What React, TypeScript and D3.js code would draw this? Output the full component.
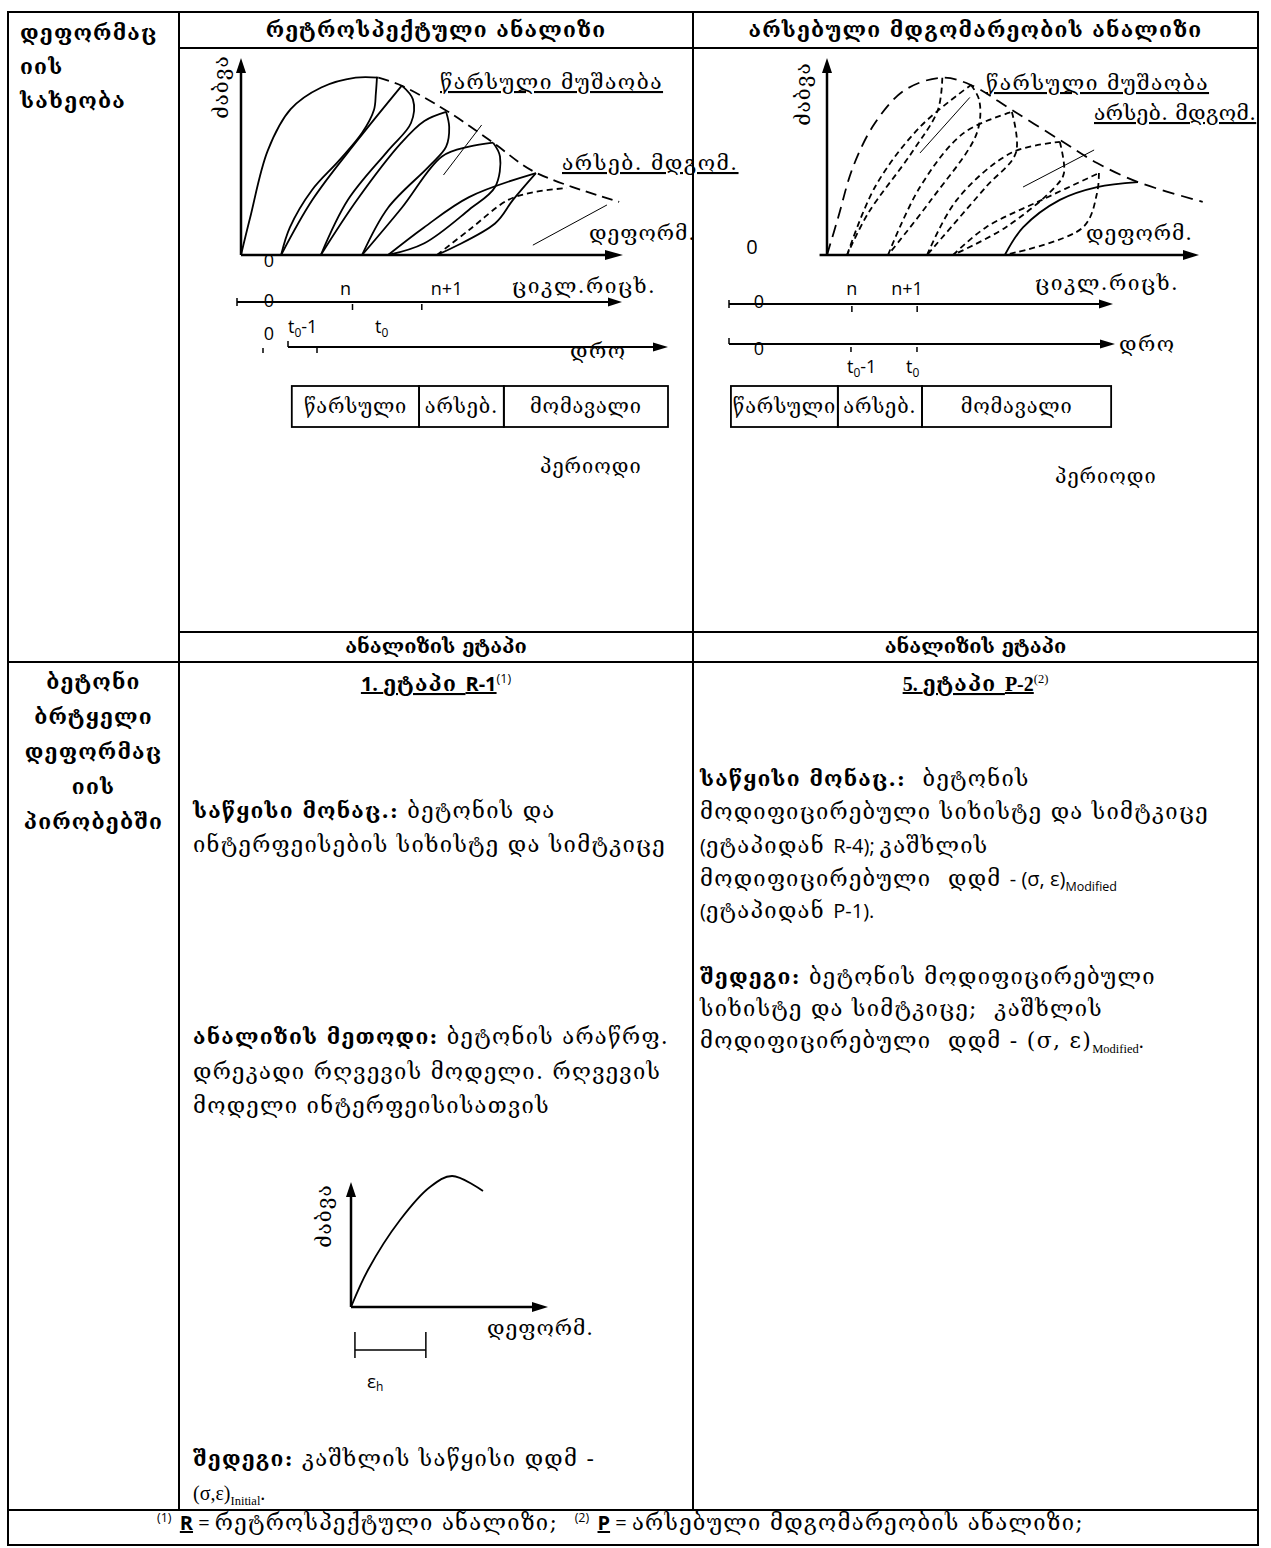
import React from "react";
import * as d3 from "d3";

type Pt = [number, number];
type Seg = { t: string; b?: boolean; f?: "sans" | "serif"; sub?: boolean; sup?: boolean; u?: boolean };

const GEO = "'DejaVu Serif', 'DejaVu Sans', serif";
const SANS = "'Open Sans', 'Liberation Sans', sans-serif";
const SERIF = "'Liberation Serif', 'DejaVu Serif', serif";

// ---- table text
const columnTitles = ["რეტროსპექტული ანალიზი", "არსებული მდგომარეობის ანალიზი"];
const typeLines = ["დეფორმაც", "იის", "სახეობა"];
const conditionLines = ["ბეტონი", "ბრტყელი", "დეფორმაც", "იის", "პირობებში"];
const stageTitle = "ანალიზის ეტაპი";
const periodLabels = ["წარსული", "არსებ.", "მომავალი"];
const periodWord = "პერიოდი";
const stressLabel = "ძაბვა";
const strainLabel = "დეფორმ.";
const cycleLabel = "ციკლ.რიცხ.";
const timeLabel = "დრო";
const pastLabel = "წარსული მუშაობა";
const nowLabel = "არსებ. მდგომ.";
const cycleTicks = ["n", "n+1"];

// ---- retrospective diagram (units: deformation 0..100, stress 0..100)
const retroEnvelope: Pt[] = [[0, 0], [2.4, 19], [7, 53], [13, 74], [21, 85], [30, 90], [36, 90]];
const retroEnvelopeDash: Pt[] = [[36, 90], [42, 86], [54, 73], [66, 57], [77, 42], [99, 27]];
const retroLoops: Pt[][] = [
  [[35.6, 90.4], [35.3, 82], [34.8, 73.6], [31.7, 62], [25.7, 48], [18.6, 33], [12.8, 14], [10.5, 0]],
  [[10.5, 0], [18.7, 28], [30.4, 58], [42.1, 86]],
  [[42.1, 86], [45, 79], [44.5, 67], [38.5, 53], [28, 28], [20.9, 0]],
  [[20.9, 0], [30.4, 28], [42, 57], [48, 68], [53.7, 72.6]],
  [[53.7, 72.6], [54.5, 65], [53.7, 55], [49.2, 45], [38.5, 24], [31.7, 0]],
  [[31.7, 0], [42.1, 24], [52.6, 50], [59.7, 55], [66, 57]],
  [[66, 57], [67.8, 50], [66.5, 34.5], [59.7, 23], [48, 6], [38.5, 0]],
  [[38.5, 0], [47.9, 14], [59.7, 29.4], [77.2, 41.6]],
  [[77.2, 41.6], [71.2, 28], [66.5, 16], [51.3, 0]],
];
const retroFuture: Pt[] = [[51.3, 0], [59.7, 12.7], [70, 28], [77, 32], [85.3, 34]];
const retroLeaders: Pt[][] = [[[63, 66], [53, 40.6]], [[95.8, 25.4], [76.4, 5]]];
const retroCycleAt = [3.0, 4.8];
const retroPeriodBounds = [0.1, 3.45, 5.68, 10];

// ---- current-state diagram
const currentEnvelope: Pt[] = [[0, 0], [3, 19], [7, 44.7], [12.9, 67], [21, 83.8], [31, 90], [38.7, 86.3], [49.7, 73.6], [62.6, 58.4], [72.6, 46.7], [83.6, 37], [101, 27]];
const currentLoops: Pt[][] = [
  [[31, 90], [29.8, 73.6], [22.8, 52], [11, 21], [5.4, 0]],
  [[5.4, 0], [12.9, 34.5], [25, 65], [38.7, 86.3]],
  [[38.7, 86.3], [40.9, 78.7], [40.3, 62], [28, 28], [16.4, 0]],
  [[16.4, 0], [25, 34.5], [36.8, 62], [49.7, 72.6]],
  [[49.7, 72.6], [50.8, 52], [42.7, 34.5], [26.9, 0]],
  [[26.9, 0], [34.9, 28], [49.7, 52], [62.6, 57.4]],
  [[62.6, 57.4], [63.7, 41.6], [61.3, 34.5], [48, 14], [33.9, 0]],
  [[33.9, 0], [42.7, 14], [57.8, 28], [73.1, 41.6]],
  [[73.1, 41.6], [72.6, 31.5], [68.8, 14], [47.8, 0]],
];
const currentReload: Pt[] = [[47.8, 0], [52.7, 14], [62.6, 28], [72.6, 34.5], [83.6, 37]];
const currentLeaders: Pt[][] = [[[38.4, 80], [25, 51.8]], [[71.8, 53.3], [52.7, 34.5]]];
const currentCycleAt = [3.2, 4.9];
const currentTimeAt = [3.16, 4.87];
const currentPeriodBounds = [0.05, 2.82, 5.0, 9.9];

// ---- small stress-strain sketch
const hardeningCurve: Pt[] = [[0, 0], [8.6, 29.6], [24.9, 69.6], [40.1, 96], [51.3, 104.8], [67, 92.8]];
const hardeningSpan = [2, 38];

// ---- stage texts
const retroStage: Seg[] = [{ t: "1. ", b: true, f: "sans", u: true }, { t: "ეტაპი ", b: true, u: true }, { t: "R-1", b: true, f: "sans", u: true }, { t: "(1)", sup: true, f: "sans" }];
const currentStage: Seg[] = [{ t: "5. ", b: true, f: "serif", u: true }, { t: "ეტაპი ", b: true, u: true }, { t: "P-2", b: true, f: "serif", u: true }, { t: "(2)", sup: true, f: "serif" }];
const retroText: Seg[][] = [
  [{ t: "საწყისი მონაც.:", b: true }, { t: " ბეტონის და" }],
  [{ t: "ინტერფეისების სიხისტე და სიმტკიცე" }],
  [{ t: "ანალიზის მეთოდი:", b: true }, { t: " ბეტონის არაწრფ." }],
  [{ t: "დრეკადი რღვევის მოდელი. რღვევის" }],
  [{ t: "მოდელი ინტერფეისისათვის" }],
  [{ t: "შედეგი:", b: true }, { t: " კაშხლის საწყისი დდმ -" }],
  [{ t: "(σ,ε)", f: "serif" }, { t: "Initial", sub: true, f: "serif" }, { t: ".", f: "serif" }],
];
const retroTextY = [818, 852, 1044, 1079, 1113, 1466, 1500];
const currentText: Seg[][] = [
  [{ t: "საწყისი მონაც.:", b: true }, { t: "  ბეტონის" }],
  [{ t: "მოდიფიცირებული სიხისტე და სიმტკიცე" }],
  [{ t: "(", f: "sans" }, { t: "ეტაპიდან " }, { t: "R-4); ", f: "sans" }, { t: "კაშხლის" }],
  [{ t: "მოდიფიცირებული  დდმ " }, { t: "- (σ, ε)", f: "sans" }, { t: "Modified", sub: true, f: "sans" }],
  [{ t: "(", f: "sans" }, { t: "ეტაპიდან " }, { t: "P-1).", f: "sans" }],
  [{ t: "შედეგი:", b: true }, { t: " ბეტონის მოდიფიცირებული" }],
  [{ t: "სიხისტე და სიმტკიცე;  კაშხლის" }],
  [{ t: "მოდიფიცირებული  დდმ - (σ, ε)" }, { t: "Modified", sub: true, f: "serif" }, { t: ".", f: "serif" }],
];
const currentTextY = [786, 819, 853, 886, 918, 984, 1016, 1048];
const footnote: Seg[] = [
  { t: "(1)", sup: true, f: "sans" }, { t: " " }, { t: "R", b: true, u: true, f: "sans" }, { t: " = ", f: "sans" },
  { t: "რეტროსპექტული ანალიზი;  " }, { t: "(2)", sup: true, f: "sans" }, { t: " " }, { t: "P", b: true, u: true, f: "sans" },
  { t: " = ", f: "sans" }, { t: "არსებული მდგომარეობის ანალიზი;" },
];

// table grid
const L = 8, C1 = 179, C2 = 693, R = 1258, T = 12, HD = 48, ST = 632, SB = 662, FT = 1510, B = 1545;

// Georgian type settings (wide Sylfaen look)
const BODY = { size: 22, ls: 1.3 };
const BOLD = { size: 21, ls: 1.2 };
const LABEL = { size: 21, ls: 1.5 };

function Rich({ x, y, segs, anchor = "start" }: { x: number; y: number; segs: Seg[]; anchor?: string }) {
  let shift = 0;
  return (
    <text x={x} y={y} textAnchor={anchor} style={{ whiteSpace: "pre" }}>
      {segs.map((s, i) => {
        const target = s.sub ? 5 : s.sup ? -8 : 0;
        const dy = target - shift;
        shift = target;
        const geo = !s.f;
        const size = s.sub || s.sup ? 12.5 : geo ? (s.b ? BOLD.size : BODY.size) : 20;
        const ls = geo && !s.sub && !s.sup ? (s.b ? BOLD.ls : BODY.ls) : 0;
        return (
          <tspan key={i} dy={dy} fontWeight={s.b ? 700 : 400}
            fontFamily={s.f === "sans" ? SANS : s.f === "serif" ? SERIF : GEO}
            fontSize={size} letterSpacing={ls}
            textDecoration={s.u ? "underline" : undefined}>{s.t}</tspan>
        );
      })}
    </text>
  );
}

function Label({ x, y, text, underline = false, size = LABEL.size, ls = LABEL.ls, anchor = "start" }: { x: number; y: number; text: string; underline?: boolean; size?: number; ls?: number; anchor?: string }) {
  return (
    <text x={x} y={y} fontSize={size} letterSpacing={ls} textAnchor={anchor} textDecoration={underline ? "underline" : undefined}>{text}</text>
  );
}

function Arrow({ x1, y1, x2, y2, w = 2.4, head = 15, half = 5 }: { x1: number; y1: number; x2: number; y2: number; w?: number; head?: number; half?: number }) {
  const a = Math.atan2(y2 - y1, x2 - x1);
  const bx = x2 - head * Math.cos(a), by = y2 - head * Math.sin(a);
  const px = -Math.sin(a) * half, py = Math.cos(a) * half;
  return (
    <g>
      <line x1={x1} y1={y1} x2={bx} y2={by} stroke="#000" strokeWidth={w} />
      <path d={`M${x2},${y2}L${bx + px},${by + py}L${bx - px},${by - py}Z`} fill="#000" />
    </g>
  );
}

function curve(x: d3.ScaleLinear<number, number>, y: d3.ScaleLinear<number, number>) {
  return d3.line<Pt>().x(d => x(d[0])).y(d => y(d[1])).curve(d3.curveCatmullRom.alpha(0.5));
}

function StressLabel({ cx, cy }: { cx: number; cy: number }) {
  return (
    <text transform={`translate(${cx},${cy}) rotate(-90)`} textAnchor="middle" dominantBaseline="central" fontSize={21} letterSpacing={1}>{stressLabel}</text>
  );
}

function Timeline({ cx0, cx1, cy, tx0, tx1, ty, cycleAt, periodBounds, boxTop, boxBottom }: {
  cx0: number; cx1: number; cy: number; tx0: number; tx1: number; ty: number; cycleAt: number[]; periodBounds: number[]; boxTop: number; boxBottom: number;
}) {
  const c = d3.scaleLinear().domain([0, 10]).range([cx0, cx1]);
  const t = d3.scaleLinear().domain([0, 10]).range([tx0, tx1]);
  return (
    <g>
      <Arrow x1={c(0)} y1={cy} x2={c(10)} y2={cy} w={2.2} head={14} half={4.5} />
      <line x1={c(0)} x2={c(0)} y1={cy - 4} y2={cy + 4} stroke="#000" strokeWidth={1.5} />
      {cycleAt.map((v, i) => (
        <line key={i} x1={c(v)} x2={c(v)} y1={cy + 2} y2={cy + 8} stroke="#000" strokeWidth={1.5} />
      ))}
      <Arrow x1={t(0)} y1={ty} x2={t(10)} y2={ty} w={2.2} head={15} half={4.5} />
      <line x1={t(0)} x2={t(0)} y1={ty - 6} y2={ty} stroke="#000" strokeWidth={1.5} />
      {periodBounds.slice(0, -1).map((v, i) => (
        <g key={i}>
          <rect x={t(v)} y={boxTop} width={t(periodBounds[i + 1]) - t(v)} height={boxBottom - boxTop} fill="none" stroke="#000" strokeWidth={1.8} />
          <Label x={(t(v) + t(periodBounds[i + 1])) / 2} y={boxTop + 27} text={periodLabels[i]} size={20} ls={0.8} anchor="middle" />
        </g>
      ))}
    </g>
  );
}

function RetroDiagram() {
  const x = d3.scaleLinear().domain([0, 100]).range([241, 623]);
  const y = d3.scaleLinear().domain([0, 100]).range([255, 58]);
  const line = curve(x, y);
  const straight = d3.line<Pt>().x(d => x(d[0])).y(d => y(d[1]));
  const cyc = d3.scaleLinear().domain([0, 10]).range([237, 622]);
  return (
    <g>
      <g fill="none" stroke="#000" strokeWidth={1.8}>
        <path d={line(retroEnvelope)!} />
        <path d={line(retroEnvelopeDash)!} strokeDasharray="11 6" />
        {retroLoops.map((p, i) => <path key={i} d={line(p)!} />)}
        <path d={line(retroFuture)!} strokeDasharray="6 4" />
        {retroLeaders.map((p, i) => <path key={i} d={straight(p)!} strokeWidth={1} />)}
      </g>
      <Arrow x1={x(0)} y1={y(0)} x2={x(0)} y2={y(100)} w={2.5} head={15} half={5} />
      <Arrow x1={x(0)} y1={y(0)} x2={x(100)} y2={y(0)} w={2.5} head={18} half={5} />
      <StressLabel cx={221} cy={87} />
      <Label x={440} y={89} text={pastLabel} underline />
      <Label x={562} y={170} text={nowLabel} underline />
      <Label x={589} y={240} text={strainLabel} ls={1} />
      <text x={269} y={267} fontSize={18} fontFamily={SANS} textAnchor="middle">0</text>

      <Timeline cx0={237} cx1={622} cy={302} tx0={288} tx1={668} ty={347} cycleAt={retroCycleAt} periodBounds={retroPeriodBounds} boxTop={386} boxBottom={427} />
      <line x1={317} x2={317} y1={347} y2={353} stroke="#000" strokeWidth={1.5} />
      <line x1={263} x2={263} y1={348} y2={353} stroke="#000" strokeWidth={1.5} />
      <text x={269} y={307} fontSize={18} fontFamily={SANS} textAnchor="middle">0</text>
      <text x={cyc(retroCycleAt[0]) - 7} y={295} fontSize={18} fontFamily={SANS} textAnchor="middle">{cycleTicks[0]}</text>
      <text x={cyc(retroCycleAt[1]) + 9} y={295} fontSize={18} fontFamily={SANS}>{cycleTicks[1]}</text>
      <Label x={512} y={293} text={cycleLabel} />
      <text x={269} y={340} fontSize={18} fontFamily={SANS} textAnchor="middle">0</text>
      <text x={288} y={333} fontSize={18} fontFamily={SANS}>t<tspan fontSize={12} dy={4}>0</tspan><tspan dy={-4}>-1</tspan></text>
      <text x={375} y={333} fontSize={18} fontFamily={SANS}>t<tspan fontSize={12} dy={4}>0</tspan></text>
      <Label x={570} y={358} text={timeLabel} />
      <Label x={540} y={473} text={periodWord} size={20} ls={1} />
    </g>
  );
}

function CurrentDiagram() {
  const x = d3.scaleLinear().domain([0, 100]).range([827, 1199]);
  const y = d3.scaleLinear().domain([0, 100]).range([255, 58]);
  const line = curve(x, y);
  const straight = d3.line<Pt>().x(d => x(d[0])).y(d => y(d[1]));
  const cyc = d3.scaleLinear().domain([0, 10]).range([729, 1113]);
  const tim = d3.scaleLinear().domain([0, 10]).range([729, 1115]);
  return (
    <g>
      <g fill="none" stroke="#000" strokeWidth={1.8}>
        <path d={line(currentEnvelope)!} strokeDasharray="12 7" />
        {currentLoops.map((p, i) => <path key={i} d={line(p)!} strokeDasharray="6 4" />)}
        <path d={line(currentReload)!} />
        {currentLeaders.map((p, i) => <path key={i} d={straight(p)!} strokeWidth={1} />)}
      </g>
      <Arrow x1={x(0)} y1={y(0)} x2={x(0)} y2={y(100)} w={2.5} head={15} half={5} />
      <Arrow x1={x(-2)} y1={y(0)} x2={x(100)} y2={y(0)} w={2.5} head={16} half={5} />
      <StressLabel cx={803} cy={94} />
      <Label x={986} y={90} text={pastLabel} underline />
      <Label x={1094} y={120} text={nowLabel} underline ls={0.4} />
      <Label x={1086} y={240} text={strainLabel} ls={1} />
      <text x={752} y={254} fontSize={20} fontFamily={SANS} textAnchor="middle">0</text>

      <Timeline cx0={729} cx1={1113} cy={304} tx0={729} tx1={1115} ty={344} cycleAt={currentCycleAt} periodBounds={currentPeriodBounds} boxTop={386} boxBottom={427} />
      {currentTimeAt.map((v, i) => (
        <line key={i} x1={tim(v)} x2={tim(v)} y1={347} y2={352} stroke="#000" strokeWidth={1.5} />
      ))}
      <text x={759} y={308} fontSize={18} fontFamily={SANS} textAnchor="middle">0</text>
      <text x={cyc(currentCycleAt[0])} y={295} fontSize={18} fontFamily={SANS} textAnchor="middle">{cycleTicks[0]}</text>
      <text x={cyc(currentCycleAt[1]) - 26} y={295} fontSize={18} fontFamily={SANS}>{cycleTicks[1]}</text>
      <Label x={1035} y={290} text={cycleLabel} />
      <text x={759} y={355} fontSize={18} fontFamily={SANS} textAnchor="middle">0</text>
      <text x={tim(currentTimeAt[0]) - 4} y={373} fontSize={18} fontFamily={SANS}>t<tspan fontSize={12} dy={4}>0</tspan><tspan dy={-4}>-1</tspan></text>
      <text x={tim(currentTimeAt[1]) - 11} y={373} fontSize={18} fontFamily={SANS}>t<tspan fontSize={12} dy={4}>0</tspan></text>
      <Label x={1119} y={351} text={timeLabel} />
      <Label x={1055} y={483} text={periodWord} size={20} ls={1} />
    </g>
  );
}

function HardeningChart() {
  const x = d3.scaleLinear().domain([0, 100]).range([351, 548]);
  const y = d3.scaleLinear().domain([0, 100]).range([1307, 1182]);
  const line = curve(x, y);
  return (
    <g>
      <path d={line(hardeningCurve)!} fill="none" stroke="#000" strokeWidth={1.8} />
      <Arrow x1={x(0)} y1={y(0)} x2={x(0)} y2={y(100)} w={2.5} head={15} half={5} />
      <Arrow x1={x(0)} y1={y(0)} x2={x(100)} y2={y(0)} w={2.5} head={16} half={5} />
      <StressLabel cx={324} cy={1216} />
      <Label x={487} y={1335} text={strainLabel} ls={1} />
      <g stroke="#000" strokeWidth={1.5}>
        <line x1={x(hardeningSpan[0])} x2={x(hardeningSpan[0])} y1={1332} y2={1358} />
        <line x1={x(hardeningSpan[1])} x2={x(hardeningSpan[1])} y1={1332} y2={1358} />
        <line x1={x(hardeningSpan[0])} x2={x(hardeningSpan[1])} y1={1350} y2={1350} />
      </g>
      <text x={367} y={1388} fontSize={19} fontFamily={SANS}>ε<tspan fontSize={12} dy={3}>h</tspan></text>
    </g>
  );
}

export default function App() {
  const colCenters = [(C1 + C2) / 2, (C2 + R) / 2];
  return (
    <svg width={1271} height={1548} style={{ position: "absolute", left: 0, top: 0, background: "#fff" }} fontFamily={GEO}>
      <g stroke="#000" strokeWidth={2} fill="none">
        <rect x={L} y={T} width={R - L} height={B - T} />
        <line x1={C1} x2={R} y1={HD} y2={HD} />
        <line x1={C1} x2={R} y1={ST} y2={ST} />
        <line x1={L} x2={R} y1={SB} y2={SB} />
        <line x1={L} x2={R} y1={FT} y2={FT} />
        <line x1={C1} x2={C1} y1={T} y2={FT} />
        <line x1={C2} x2={C2} y1={T} y2={FT} />
      </g>
      {columnTitles.map((s, i) => (
        <text key={i} x={colCenters[i]} y={37} textAnchor="middle" fontSize={BOLD.size} letterSpacing={BOLD.ls} fontWeight={700}>{s}</text>
      ))}
      {typeLines.map((s, i) => (
        <text key={i} x={20} y={40 + i * 34} fontSize={BOLD.size} letterSpacing={BOLD.ls} fontWeight={700}>{s}</text>
      ))}
      {conditionLines.map((s, i) => (
        <text key={i} x={(L + C1) / 2} y={689 + i * 35} textAnchor="middle" fontSize={BOLD.size} letterSpacing={BOLD.ls} fontWeight={700}>{s}</text>
      ))}
      {colCenters.map((c, i) => (
        <text key={i} x={c} y={653} textAnchor="middle" fontSize={20} fontWeight={700}>{stageTitle}</text>
      ))}
      <RetroDiagram />
      <CurrentDiagram />
      <Rich x={colCenters[0]} y={691} segs={retroStage} anchor="middle" />
      <Rich x={colCenters[1]} y={691} segs={currentStage} anchor="middle" />
      {retroText.map((segs, i) => <Rich key={i} x={193} y={retroTextY[i]} segs={segs} />)}
      {currentText.map((segs, i) => <Rich key={i} x={700} y={currentTextY[i]} segs={segs} />)}
      <HardeningChart />
      <Rich x={157} y={1530} segs={footnote} />
    </svg>
  );
}
